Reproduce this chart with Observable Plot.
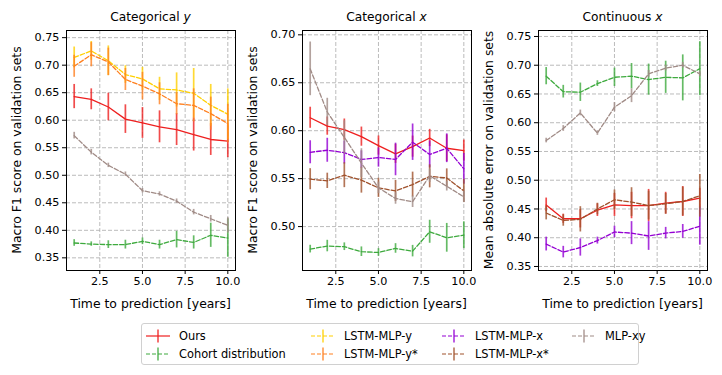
<!DOCTYPE html>
<html>
<head>
<meta charset="utf-8">
<script src="https://cdn.jsdelivr.net/npm/d3@7"></script>
<script src="https://cdn.jsdelivr.net/npm/@observablehq/plot@0.6"></script>
<style>
  html, body { margin: 0; padding: 0; background: white; }
  #chart { position: relative; width: 722px; height: 375px; font-family: "DejaVu Sans", sans-serif; color: #000; overflow: hidden; }
  .abs { position: absolute; white-space: nowrap; }
  .title { font-size: 12.2px; transform: translate(-50%, -50%); }
  .xlab { font-size: 12.4px; transform: translate(-50%, -50%); }
  .ylab { font-size: 12.4px; transform: translate(-50%, -50%) rotate(-90deg); }
  #legend { position: absolute; left: 141px; top: 323px; width: 498px; height: 42px; border: 1px solid #d0d0d0; border-radius: 3px; box-sizing: border-box; }
  .lg { position: absolute; font-size: 11.4px; display: flex; align-items: center; white-space: nowrap; }
  .lg svg { margin-right: 9px; }
</style>
</head>
<body>
<div id="chart"></div>
<script>
// ---------- data ----------
const years = [1, 2, 3, 4, 5, 6, 7, 8, 9, 10];
const seriesNames = ["Ours", "Cohort distribution", "LSTM-MLP-y", "LSTM-MLP-y*", "LSTM-MLP-x", "LSTM-MLP-x*", "MLP-xy"];
const seriesColors = ["#ee1f1f", "#3eaa3e", "#ffd000", "#ff8020", "#9400d3", "#a0522d", "#a08b86"];
const seriesDashed = [false, true, true, true, true, true, true];

const xTicks = [2.5, 5, 7.5, 10];
const yTicksCatY = [0.35, 0.40, 0.45, 0.50, 0.55, 0.60, 0.65, 0.70, 0.75];
const yTicksCatX = [0.50, 0.55, 0.60, 0.65, 0.70];
const yTicksContX = [0.35, 0.40, 0.45, 0.50, 0.55, 0.60, 0.65, 0.70, 0.75];

const panelTitles = ["Categorical", "Categorical", "Continuous"];
const panelTitleVars = ["y", "x", "x"];
const panelYLabels = ["Macro F1 score on validation sets", "Macro F1 score on validation sets", "Mean absolute error on validation sets"];
const xLabel = "Time to prediction [years]";

// Panel 1: Categorical y
const catY_ours = [0.643, 0.638, 0.624, 0.602, 0.595, 0.588, 0.583, 0.574, 0.565, 0.562];
const catY_oursErr = [0.022, 0.019, 0.025, 0.026, 0.028, 0.029, 0.029, 0.030, 0.029, 0.030];
const catY_cohort = [0.377, 0.375, 0.374, 0.374, 0.380, 0.374, 0.383, 0.378, 0.391, 0.386];
const catY_cohortErr = [0.006, 0.004, 0.007, 0.008, 0.006, 0.008, 0.015, 0.012, 0.022, 0.035];
const catY_lstmY = [0.714, 0.726, 0.708, 0.683, 0.675, 0.657, 0.655, 0.649, 0.627, 0.611];
const catY_lstmYErr = [0.019, 0.017, 0.027, 0.016, 0.021, 0.021, 0.031, 0.045, 0.038, 0.046];
const catY_lstmYs = [0.698, 0.719, 0.706, 0.674, 0.662, 0.648, 0.630, 0.627, 0.612, 0.594];
const catY_lstmYsErr = [0.020, 0.022, 0.025, 0.020, 0.025, 0.020, 0.020, 0.030, 0.030, 0.035];
const catY_mlpXY = [0.572, 0.542, 0.518, 0.502, 0.472, 0.466, 0.453, 0.433, 0.421, 0.409];
const catY_mlpXYErr = [0.006, 0.005, 0.004, 0.004, 0.004, 0.004, 0.004, 0.005, 0.006, 0.014];

// Panel 2: Categorical x
const catX_ours = [0.6135, 0.6048, 0.6012, 0.5938, 0.5845, 0.5759, 0.5834, 0.5924, 0.5817, 0.5793];
const catX_oursErr = [0.011, 0.0095, 0.011, 0.010, 0.010, 0.010, 0.011, 0.009, 0.014, 0.011];
const catX_cohort = [0.4765, 0.4797, 0.479, 0.4738, 0.473, 0.4772, 0.4744, 0.4946, 0.4883, 0.491];
const catX_cohortErr = [0.004, 0.006, 0.004, 0.005, 0.004, 0.005, 0.006, 0.012, 0.015, 0.014];
const catX_lstmX = [0.5775, 0.5796, 0.5772, 0.570, 0.572, 0.570, 0.588, 0.5752, 0.5817, 0.5603];
const catX_lstmXErr = [0.012, 0.0125, 0.012, 0.009, 0.010, 0.017, 0.019, 0.014, 0.015, 0.016];
const catX_lstmXs = [0.5494, 0.5477, 0.5536, 0.5484, 0.5404, 0.5372, 0.5438, 0.5524, 0.5507, 0.5372];
const catX_lstmXsErr = [0.011, 0.008, 0.013, 0.0135, 0.010, 0.011, 0.013, 0.012, 0.0095, 0.012];
const catX_mlpXY = [0.6645, 0.6195, 0.593, 0.5662, 0.5404, 0.5293, 0.5259, 0.553, 0.5421, 0.531];
const catX_mlpXYErr = [0.028, 0.0143, 0.0174, 0.015, 0.006, 0.006, 0.006, 0.007, 0.005, 0.006];

// Panel 3: Continuous x
const contX_ours = [0.457, 0.433, 0.433, 0.448, 0.457, 0.456, 0.456, 0.460, 0.463, 0.469];
const contX_oursErr = [0.012, 0.008, 0.016, 0.011, 0.020, 0.023, 0.028, 0.019, 0.026, 0.017];
const contX_cohort = [0.681, 0.654, 0.653, 0.668, 0.679, 0.681, 0.675, 0.679, 0.678, 0.694];
const contX_cohortErr = [0.015, 0.011, 0.016, 0.005, 0.016, 0.022, 0.027, 0.028, 0.040, 0.047];
const contX_lstmX = [0.389, 0.375, 0.383, 0.395, 0.410, 0.408, 0.403, 0.408, 0.411, 0.420];
const contX_lstmXErr = [0.012, 0.010, 0.015, 0.006, 0.010, 0.020, 0.025, 0.010, 0.012, 0.033];
const contX_lstmXs = [0.443, 0.430, 0.432, 0.450, 0.466, 0.462, 0.456, 0.459, 0.463, 0.473];
const contX_lstmXsErr = [0.012, 0.010, 0.022, 0.010, 0.017, 0.025, 0.025, 0.018, 0.025, 0.037];
const contX_mlpXY = [0.569, 0.590, 0.617, 0.582, 0.627, 0.647, 0.685, 0.695, 0.700, 0.685];
const contX_mlpXYErr = [0.004, 0.005, 0.005, 0.004, 0.008, 0.012, 0.006, 0.005, 0.005, 0.005];

// ---------- build ----------
function rows(values, errs) {
  return years.map((x, i) => ({x, y: values[i], e: errs[i]}));
}

const panels = [
  {
    frameLeft: 66, yDomain: [0.327, 0.763], yTicks: yTicksCatY,
    series: [[0, catY_ours, catY_oursErr], [1, catY_cohort, catY_cohortErr], [2, catY_lstmY, catY_lstmYErr], [3, catY_lstmYs, catY_lstmYsErr], [6, catY_mlpXY, catY_mlpXYErr]]
  },
  {
    frameLeft: 302, yDomain: [0.4542, 0.7045], yTicks: yTicksCatX,
    series: [[0, catX_ours, catX_oursErr], [1, catX_cohort, catX_cohortErr], [4, catX_lstmX, catX_lstmXErr], [5, catX_lstmXs, catX_lstmXsErr], [6, catX_mlpXY, catX_mlpXYErr]]
  },
  {
    frameLeft: 538, yDomain: [0.343, 0.7604], yTicks: yTicksContX,
    series: [[0, contX_ours, contX_oursErr], [1, contX_cohort, contX_cohortErr], [4, contX_lstmX, contX_lstmXErr], [5, contX_lstmXs, contX_lstmXsErr], [6, contX_mlpXY, contX_mlpXYErr]]
  }
];

const chart = document.getElementById("chart");
const mL = 50, mR = 10, mT = 30, mB = 45, frameW = 169, frameH = 240;

panels.forEach((p, pi) => {
  const marks = [
    Plot.gridX(xTicks, {stroke: "#aaaaaa", strokeOpacity: 1, strokeWidth: 0.8, strokeDasharray: "4,2"}),
    Plot.gridY(p.yTicks, {stroke: "#aaaaaa", strokeOpacity: 1, strokeWidth: 0.8, strokeDasharray: "4,2"})
  ];
  p.series.forEach(([si, vals, errs]) => {
    const data = rows(vals, errs);
    marks.push(Plot.ruleX(data, {x: "x", y1: d => d.y - d.e, y2: d => d.y + d.e, stroke: seriesColors[si], strokeWidth: 1.7, strokeOpacity: 0.8}));
    marks.push(Plot.line(data, {x: "x", y: "y", stroke: seriesColors[si], strokeWidth: 1.3, strokeDasharray: seriesDashed[si] ? "4.5,2" : null}));
  });
  marks.push(Plot.frame({stroke: "black", strokeWidth: 1}));
  marks.push(Plot.axisX(xTicks, {tickSize: 4, tickPadding: 3, tickFormat: d3.format(".1f"), label: null, fontSize: 11.2}));
  marks.push(Plot.axisY(p.yTicks, {tickSize: 4, tickPadding: 3, tickFormat: d3.format(".2f"), label: null, fontSize: 11.2}));

  const svg = Plot.plot({
    width: mL + frameW + mR,
    height: mT + frameH + mB,
    marginLeft: mL, marginRight: mR, marginTop: mT, marginBottom: mB,
    x: {domain: [0.55, 10.45]},
    y: {domain: p.yDomain},
    style: {fontFamily: "DejaVu Sans", fontSize: "11.2px", color: "black", background: "transparent", overflow: "visible"},
    marks
  });
  svg.style.position = "absolute";
  svg.style.left = (p.frameLeft - mL) + "px";
  svg.style.top = "0px";
  chart.appendChild(svg);

  const cx = p.frameLeft + frameW / 2;
  const t = document.createElement("div");
  t.className = "abs title";
  t.style.left = cx + "px"; t.style.top = "17px";
  t.innerHTML = panelTitles[pi] + " <i>" + panelTitleVars[pi] + "</i>";
  chart.appendChild(t);

  const xl = document.createElement("div");
  xl.className = "abs xlab";
  xl.style.left = cx + "px"; xl.style.top = "303px";
  xl.textContent = xLabel;
  chart.appendChild(xl);

  const yl = document.createElement("div");
  yl.className = "abs ylab";
  yl.style.left = (p.frameLeft - 50) + "px"; yl.style.top = "150px";
  yl.textContent = panelYLabels[pi];
  chart.appendChild(yl);
});

// ---------- legend ----------
const legend = document.createElement("div");
legend.id = "legend";
chart.appendChild(legend);
const colX = [4, 169, 300, 430];
const rowY = [5, 23];
seriesNames.forEach((name, i) => {
  const col = Math.floor(i / 2), row = i % 2;
  const item = document.createElement("div");
  item.className = "lg";
  item.style.left = colX[col] + "px";
  item.style.top = rowY[row] + "px";
  const dash = seriesDashed[i] ? ' stroke-dasharray="4,2"' : "";
  item.innerHTML = `<svg width="24" height="14"><line x1="0" y1="7" x2="24" y2="7" stroke="${seriesColors[i]}" stroke-width="1.2"${dash}/><line x1="12" y1="0.5" x2="12" y2="13.5" stroke="${seriesColors[i]}" stroke-width="1.5" stroke-opacity="0.85"/></svg><span>${name}</span>`;
  legend.appendChild(item);
});
</script>
</body>
</html>
